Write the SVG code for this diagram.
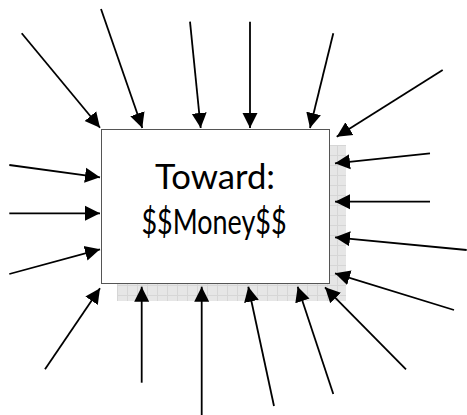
<svg xmlns="http://www.w3.org/2000/svg" width="467" height="415" viewBox="0 0 467 415">
<style>
.c line{stroke:#000;stroke-width:1.8;marker-end:url(#ah)}
.lbl{font-family:Lato,"Open Sans","DejaVu Sans",sans-serif;font-size:34px;fill:#000;text-anchor:middle}
</style>
<defs>
<marker id="ah" markerUnits="userSpaceOnUse" markerWidth="16" markerHeight="16" refX="15" refY="7.5" orient="auto" viewBox="0 0 16 15">
<path d="M0,0 L15,7.5 L0,15 z" fill="#000"/>
</marker>
<pattern id="grid" patternUnits="userSpaceOnUse" width="10" height="10" x="117" y="145">
<rect width="10" height="10" fill="#e6e6e6"/>
<path d="M0,0.5 H10 M0.5,0 V10" stroke="#d6d6d6" stroke-width="1"/>
</pattern>
</defs>
<rect width="467" height="415" fill="#fff"/>
<g id="box">
<rect x="117" y="145" width="229" height="156" fill="url(#grid)"/>
<rect x="101.5" y="129.5" width="228" height="154" fill="#fff" stroke="#555" stroke-width="1"/>
<text class="lbl" x="215" y="189" textLength="120" lengthAdjust="spacingAndGlyphs">Toward:</text>
<text class="lbl" x="214" y="234" textLength="145" lengthAdjust="spacingAndGlyphs">$$Money$$</text>
</g>
<g id="connectors" class="c">
<line x1="21.7" y1="33.3" x2="100" y2="127.7"/>
<line x1="101" y1="9" x2="142.3" y2="128"/>
<line x1="190" y1="21.7" x2="200.7" y2="128"/>
<line x1="250" y1="21.7" x2="250" y2="128"/>
<line x1="333.3" y1="33.3" x2="310" y2="128"/>
<line x1="442.7" y1="70" x2="336.7" y2="136.7"/>
<line x1="430" y1="153.3" x2="335" y2="163.3"/>
<line x1="430" y1="201.7" x2="335" y2="201.7"/>
<line x1="466.7" y1="250" x2="335" y2="237.3"/>
<line x1="454" y1="310" x2="335" y2="273.3"/>
<line x1="45" y1="369.3" x2="100" y2="288.3"/>
<line x1="141.7" y1="382.7" x2="141.7" y2="286.7"/>
<line x1="201.7" y1="415" x2="201.7" y2="286.7"/>
<line x1="274" y1="406" x2="248.3" y2="286.7"/>
<line x1="333.3" y1="394" x2="297.7" y2="286.7"/>
<line x1="406" y1="369.3" x2="325" y2="287.3"/>
<line x1="9.3" y1="165" x2="100" y2="177.3"/>
<line x1="9.3" y1="213.3" x2="100" y2="213.3"/>
<line x1="9.3" y1="274" x2="100" y2="249.3"/>
</g>
</svg>
